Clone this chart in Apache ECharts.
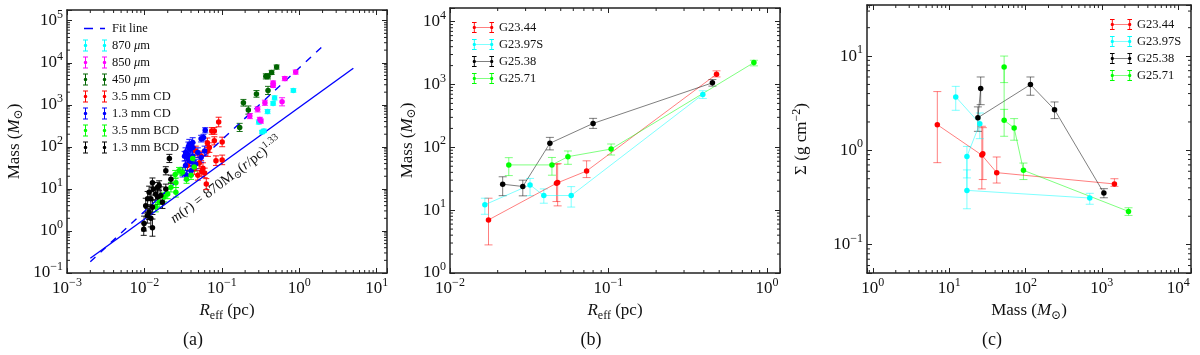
<!DOCTYPE html>
<html>
<head>
<meta charset="utf-8">
<script src="https://cdn.jsdelivr.net/npm/echarts@6/dist/echarts.min.js"></script>
<style>
html, body { margin: 0; padding: 0; background: #fff; }
#chart { width: 1200px; height: 355px; }
</style>
</head>
<body>
<div id="chart"></div>
<script>
// ---- panel (a): [Reff (pc), Mass (Msun), relative error]
const a870 = [[0.84, 2200, 0.1], [0.48, 1460, 0.12], [0.46, 1080, 0.1], [0.39, 690, 0.12], [0.30, 390, 0.12], [0.35, 240, 0.1], [0.33, 225, 0.1]]
const a850 = [[0.9, 6000, 0.12], [0.65, 4200, 0.12], [0.46, 3300, 0.12], [0.46, 2900, 0.12], [0.6, 1180, 0.25], [0.36, 1120, 0.15], [0.29, 780, 0.15], [0.23, 540, 0.15], [0.31, 450, 0.12], [0.32, 410, 0.12]]
const a450 = [[0.51, 7900, 0.12], [0.44, 5900, 0.12], [0.37, 4750, 0.15], [0.395, 4750, 0.15], [0.395, 2200, 0.25], [0.28, 1820, 0.2], [0.19, 1120, 0.2], [0.22, 750, 0.25], [0.17, 290, 0.25]]
const a35CD = [[0.091, 390, 0.3], [0.074, 239, 0.2], [0.080, 239, 0.2], [0.101, 131, 0.3], [0.080, 139, 0.25], [0.069, 96, 0.3], [0.101, 49, 0.3], [0.084, 47, 0.3], [0.066, 80, 0.35], [0.051, 41, 0.35], [0.057, 31, 0.35], [0.044, 30, 0.35], [0.049, 21, 0.3], [0.063, 13, 0.35], [0.054, 61, 0.3], [0.046, 80, 0.3], [0.065, 125, 0.3], [0.036, 36, 0.3], [0.055, 26, 0.3], [0.060, 24, 0.3]]
const a13CD = [[0.061, 248, 0.15], [0.054, 157, 0.2], [0.058, 166, 0.2], [0.042, 127, 0.3], [0.038, 116, 0.3], [0.039, 88, 0.3], [0.036, 67, 0.3], [0.042, 61, 0.3], [0.049, 73, 0.3], [0.060, 80, 0.3], [0.054, 56, 0.3], [0.046, 39, 0.3], [0.038, 47, 0.3], [0.034, 36, 0.3], [0.040, 27, 0.3], [0.035, 21, 0.3], [0.042, 96, 0.3], [0.034, 73, 0.3], [0.044, 36, 0.3], [0.031, 25, 0.3], [0.037, 100, 0.3], [0.036, 55, 0.3], [0.040, 45, 0.3], [0.033, 60, 0.3]]
const a35BCD = [[0.028, 27, 0.2], [0.031, 25, 0.2], [0.040, 21, 0.25], [0.044, 33, 0.25], [0.0255, 14, 0.3], [0.022, 11, 0.3], [0.020, 7.6, 0.3], [0.0155, 4.8, 0.3], [0.018, 6.4, 0.3], [0.014, 3.7, 0.3], [0.0255, 8.3, 0.3], [0.042, 53, 0.2], [0.025, 22, 0.25], [0.035, 17, 0.25]]
const a13BCD = [[0.021, 53, 0.25], [0.0189, 27, 0.25], [0.022, 17, 0.25], [0.0127, 14, 0.3], [0.0155, 12, 0.3], [0.0115, 8.3, 0.4], [0.0121, 5.8, 0.5], [0.0148, 6.4, 0.5], [0.0163, 7, 0.6], [0.0104, 4, 0.5], [0.0109, 2.3, 0.5], [0.0121, 2, 0.6], [0.0099, 1.5, 0.5], [0.0098, 1.1, 0.4], [0.0127, 1.2, 0.6], [0.0171, 4.8, 0.4], [0.0189, 10, 0.3], [0.013, 10, 0.4], [0.011, 5.8, 0.5], [0.0148, 11, 0.3], [0.0127, 3.7, 0.5], [0.014, 7.5, 0.4], [0.0115, 2.8, 0.5]]
// fit lines, end points
const fitDashed = [[0.002, 0.186], [1.95, 23600]]
const fitSolid = [[0.002, 0.224], [5, 7400]]

// ---- panels (b) and (c): per clump Reff, mass (+ error range), surface density (+ error range)
const clumps = ['G23.44', 'G23.97S', 'G25.38', 'G25.71']
const rG2344 = [0.0175, 0.0470, 0.0478, 0.0728, 0.481]
const mG2344 = [7.0, 26.8, 27.6, 42, 1460]
const mErrG2344 = [[2.8, 15.5], [13.7, 54], [11.7, 55], [33, 61], [1320, 1650]]
const sG2344 = [1.87, 0.89, 0.92, 0.58, 0.44]
const sErrG2344 = [[0.74, 4.2], [0.39, 1.80], [0.49, 1.74], [0.45, 0.85], [0.415, 0.5]]

const rG2397 = [0.0166, 0.032, 0.0391, 0.0582, 0.394]
const mG2397 = [12.2, 25.2, 17.1, 17.1, 694]
const mErrG2397 = [[8.6, 15.5], [17, 32], [12.9, 21.8], [11.2, 23.7], [600, 795]]
const sG2397 = [3.69, 1.92, 0.86, 0.376, 0.312]
const sErrG2397 = [[2.66, 4.77], [1.33, 2.49], [0.51, 1.10], [0.24, 0.62], [0.268, 0.35]]

const rG2538 = [0.0215, 0.0288, 0.0427, 0.080, 0.453]
const mG2538 = [25.9, 23.8, 116, 240, 1063]
const mErrG2538 = [[17, 34], [16.9, 30], [91, 144], [200, 289], [942, 1200]]
const sG2538 = [4.52, 2.22, 4.98, 2.7, 0.352]
const sErrG2538 = [[3.05, 6.0], [1.59, 2.89], [3.84, 6.0], [2.17, 3.26], [0.314, 0.392]]

const rG2571 = [0.0235, 0.044, 0.0555, 0.104, 0.828]
const mG2571 = [52.5, 52.5, 71, 94, 2234]
const mErrG2571 = [[35.5, 68.5], [36, 69], [53.7, 87.5], [75.5, 113], [1980, 2430]]
const sG2571 = [7.67, 2.08, 1.73, 0.614, 0.225]
const sErrG2571 = [[5.23, 10.0], [1.41, 2.72], [1.28, 2.17], [0.49, 0.733], [0.204, 0.246]]

const FONT = 'Liberation Serif, Times New Roman, DejaVu Serif, serif'
const ODOT = '\u2299'

const chart = echarts.init(document.getElementById('chart'))

// 10^n tick labels
const powLabel = v => {
  const l = Math.log10(v)
  const e = Math.round(l)
  if (Math.abs(l - e) > 1e-6) return ''
  return '{b|10}{s|' + (e < 0 ? '\u2212' + (-e) : e) + '}'
}
const labelRich = {
  b: { fontFamily: FONT, fontSize: 17, color: '#111' },
  s: { fontFamily: FONT, fontSize: 12, color: '#111', padding: [0, 0, 12, 0] }
}
const nameRich = {
  n: { fontFamily: FONT, fontSize: 17, color: '#111' },
  i: { fontFamily: FONT, fontSize: 17, fontStyle: 'italic', color: '#111' },
  sub: { fontFamily: FONT, fontSize: 12, color: '#111', padding: [9, 0, 0, 0] },
  sup: { fontFamily: FONT, fontSize: 12, color: '#111', padding: [0, 0, 10, 0] }
}

const frameLine = { show: true, lineStyle: { color: '#222', width: 1.5 } }

function mainX (grid, min, max, name) {
  return {
    type: 'log', gridIndex: grid, min, max, logBase: 10,
    axisLine: frameLine,
    axisTick: { inside: true, length: 5, lineStyle: { color: '#222' } },
    axisLabel: { formatter: powLabel, rich: labelRich, margin: 4 },
    splitLine: { show: false },
    name, nameLocation: 'middle', nameGap: 22, nameTextStyle: { rich: nameRich }
  }
}
function mainY (grid, min, max, name, gap) {
  return {
    type: 'log', gridIndex: grid, min, max, logBase: 10,
    axisLine: frameLine,
    axisTick: { inside: true, length: 5, lineStyle: { color: '#222' } },
    axisLabel: { formatter: powLabel, rich: labelRich, margin: 4 },
    splitLine: { show: false },
    name, nameLocation: 'middle', nameGap: gap, nameRotate: 90, nameTextStyle: { rich: nameRich }
  }
}
function mirror (ax, pos) {
  return Object.assign({}, ax, { position: pos, name: '', axisLabel: { show: false } })
}

// minor log ticks drawn along all four edges of a grid
function minorTicks (xi, yi, xr, yr) {
  return {
    type: 'custom', xAxisIndex: xi, yAxisIndex: yi, silent: true, clip: false, z: 5,
    data: [[xr[0], yr[0]]],
    renderItem: (params, api) => {
      const cs = params.coordSys
      const kids = []
      const st = { stroke: '#222', lineWidth: 1 }
      for (let d = Math.floor(Math.log10(xr[0])); d <= Math.ceil(Math.log10(xr[1])); d++) {
        for (let m = 2; m <= 9; m++) {
          const v = m * Math.pow(10, d)
          if (v <= xr[0] || v >= xr[1]) continue
          const px = api.coord([v, yr[0]])[0]
          kids.push({ type: 'line', shape: { x1: px, y1: cs.y + cs.height, x2: px, y2: cs.y + cs.height - 3 }, style: st })
          kids.push({ type: 'line', shape: { x1: px, y1: cs.y, x2: px, y2: cs.y + 3 }, style: st })
        }
      }
      for (let d = Math.floor(Math.log10(yr[0])); d <= Math.ceil(Math.log10(yr[1])); d++) {
        for (let m = 2; m <= 9; m++) {
          const v = m * Math.pow(10, d)
          if (v <= yr[0] || v >= yr[1]) continue
          const py = api.coord([xr[0], v])[1]
          kids.push({ type: 'line', shape: { x1: cs.x, y1: py, x2: cs.x + 3, y2: py }, style: st })
          kids.push({ type: 'line', shape: { x1: cs.x + cs.width, y1: py, x2: cs.x + cs.width - 3, y2: py }, style: st })
        }
      }
      return { type: 'group', children: kids }
    }
  }
}

// vertical error bars with caps, rows are [x, lo, hi]
function errBars (xi, yi, rows, color, cap, opacity) {
  return {
    type: 'custom', xAxisIndex: xi, yAxisIndex: yi, silent: true, z: 2,
    data: rows,
    encode: { x: 0, y: [1, 2] },
    renderItem: (params, api) => {
      const lo = api.coord([api.value(0), api.value(1)])
      const hi = api.coord([api.value(0), api.value(2)])
      const st = { stroke: color, lineWidth: 1, opacity }
      return {
        type: 'group',
        children: [
          { type: 'line', shape: { x1: lo[0], y1: lo[1], x2: hi[0], y2: hi[1] }, style: st },
          { type: 'line', shape: { x1: lo[0] - cap, y1: lo[1], x2: lo[0] + cap, y2: lo[1] }, style: st },
          { type: 'line', shape: { x1: hi[0] - cap, y1: hi[1], x2: hi[0] + cap, y2: hi[1] }, style: st }
        ]
      }
    }
  }
}

// legend icons: two error bars (a), two error bars joined by a line (b, c), dashed fit line
const iconErr = 'path://M0,0H5V1H3V11H5V12H0V11H2V1H0ZM19,0H24V1H22V11H24V12H19V11H21V1H19ZM4.3,6A1.8,1.8 0 1 1 0.7,6A1.8,1.8 0 1 1 4.3,6ZM23.3,6A1.8,1.8 0 1 1 19.7,6A1.8,1.8 0 1 1 23.3,6Z'
const iconLineErr = iconErr + 'M2.5,5.6H21.5V6.4H2.5Z'
const iconDash = 'path://M0,0H0.01V0.01H0ZM23.99,11.99H24V12H23.99ZM1,5.3H10V6.7H1ZM17,5.3H22V6.7H17Z'

// ---------------- panel (a) series
const panelA = [
  ['870 \u03bcm', a870, '#00ffff'],
  ['850 \u03bcm', a850, '#ff00ff'],
  ['450 \u03bcm', a450, '#006400'],
  ['3.5 mm CD', a35CD, '#ff0000'],
  ['1.3 mm CD', a13CD, '#0000ff'],
  ['3.5 mm BCD', a35BCD, '#00ff00'],
  ['1.3 mm BCD', a13BCD, '#000000']
]
const series = []
series.push(minorTicks(0, 0, [1e-3, 13.6], [0.1, 1.8e5]))
series.push({
  type: 'line', name: 'Fit line', xAxisIndex: 0, yAxisIndex: 0, data: fitDashed,
  symbol: 'none', lineStyle: { color: '#0000ff', width: 1.4, type: [7, 7] }, itemStyle: { color: '#0000ff' }, z: 3
})
series.push({
  type: 'line', xAxisIndex: 0, yAxisIndex: 0, data: fitSolid,
  symbol: 'none', lineStyle: { color: '#0000ff', width: 1.4 }, z: 3
})
panelA.forEach(([name, rows, color]) => {
  series.push(errBars(0, 0, rows.map(p => [p[0], p[1] / (1 + p[2]), p[1] * (1 + p[2])]), color, 3, 0.9))
  series.push({
    type: 'scatter', name, xAxisIndex: 0, yAxisIndex: 0, data: rows.map(p => [p[0], p[1]]),
    symbolSize: 5.5, itemStyle: { color, opacity: 1 }, z: 4
  })
})

// ---------------- panels (b) and (c)
const bc = [
  [rG2344, mG2344, mErrG2344, sG2344, sErrG2344, '#ff0000', 'rgba(255,0,0,0.5)'],
  [rG2397, mG2397, mErrG2397, sG2397, sErrG2397, '#00ffff', 'rgba(0,255,255,0.5)'],
  [rG2538, mG2538, mErrG2538, sG2538, sErrG2538, '#000000', 'rgba(0,0,0,0.5)'],
  [rG2571, mG2571, mErrG2571, sG2571, sErrG2571, '#00ff00', 'rgba(0,255,0,0.5)']
]
series.push(minorTicks(2, 2, [0.01, 1.21], [1, 1.65e4]))
series.push(minorTicks(4, 4, [0.84, 1.47e4], [0.05, 34.8]))
bc.forEach(([r, m, mErr, s, sErr, color, pale], k) => {
  series.push(errBars(2, 2, r.map((x, i) => [x, mErr[i][0], mErr[i][1]]), pale, 4, 1))
  series.push({
    type: 'line', name: clumps[k], xAxisIndex: 2, yAxisIndex: 2, data: r.map((x, i) => [x, m[i]]),
    symbol: 'circle', symbolSize: 5.5, showSymbol: true, itemStyle: { color }, lineStyle: { color: pale, width: 1 }, z: 4
  })
  series.push(errBars(4, 4, m.map((x, i) => [x, sErr[i][0], sErr[i][1]]), pale, 4, 1))
  series.push({
    type: 'line', name: clumps[k], xAxisIndex: 4, yAxisIndex: 4, data: m.map((x, i) => [x, s[i]]),
    symbol: 'circle', symbolSize: 5.5, showSymbol: true, itemStyle: { color }, lineStyle: { color: pale, width: 1 }, z: 4
  })
})

const legendText = {
  fontFamily: FONT, fontSize: 12.5, color: '#111',
  rich: { n: { fontFamily: FONT, fontSize: 12.5, color: '#111' }, i: { fontFamily: FONT, fontSize: 12.5, fontStyle: 'italic', color: '#111' } }
}

const axA = { x: mainX(0, 1e-3, 13.6, '{i|R}{sub|eff}{n| (pc)}'), y: mainY(0, 0.1, 1.8e5, '{n|Mass (}{i|M}{sub|' + ODOT + '}{n|)}', 42) }
const axB = { x: mainX(1, 0.01, 1.21, '{i|R}{sub|eff}{n| (pc)}'), y: mainY(1, 1, 1.65e4, '{n|Mass (}{i|M}{sub|' + ODOT + '}{n|)}', 32) }
const axC = { x: mainX(2, 0.84, 1.47e4, '{n|Mass (}{i|M}{sub|' + ODOT + '}{n|)}'), y: mainY(2, 0.05, 34.8, '{n|\u03a3 (g cm}{sup|\u22122}{n|)}', 54) }

const option = {
  animation: false,
  backgroundColor: '#fff',
  textStyle: { fontFamily: FONT },
  grid: [
    { left: 67, top: 10, width: 320, height: 263 },
    { left: 450, top: 8, width: 330, height: 265 },
    { left: 867, top: 5, width: 324, height: 268 }
  ],
  // order: a-bottom, a-top, b-bottom, b-top, c-bottom, c-top
  xAxis: [axA.x, mirror(axA.x, 'top'), axB.x, mirror(axB.x, 'top'), axC.x, mirror(axC.x, 'top')],
  yAxis: [axA.y, mirror(axA.y, 'right'), axB.y, mirror(axB.y, 'right'), axC.y, mirror(axC.y, 'right')],
  legend: [
    {
      orient: 'vertical', left: 78, top: 17, itemWidth: 24, itemHeight: 12, itemGap: 4,
      textStyle: legendText,
      formatter: n => n.replace('\u03bcm', '{i|\u03bc}{n|m}'),
      data: [{ name: 'Fit line', icon: iconDash }].concat(panelA.map(p => ({ name: p[0], icon: iconErr })))
    },
    {
      orient: 'vertical', left: 467, top: 16, itemWidth: 22, itemHeight: 12, itemGap: 4,
      textStyle: legendText,
      data: clumps.map(name => ({ name, icon: iconLineErr }))
    },
    {
      orient: 'vertical', left: 1105, top: 13, itemWidth: 22, itemHeight: 12, itemGap: 4,
      textStyle: legendText,
      data: clumps.map(name => ({ name, icon: iconLineErr }))
    }
  ],
  graphic: [
    {
      type: 'text', x: 226, y: 180, rotation: 37 * Math.PI / 180,
      style: {
        text: '{i|m}{n|(}{i|r}{n|) = 870M}{sub|' + ODOT + '}{n|(}{i|r}{n|/pc)}{sup|1.33}',
        align: 'center', verticalAlign: 'middle',
        rich: {
          n: { fontFamily: FONT, fontSize: 14.5, fill: '#111' },
          i: { fontFamily: FONT, fontSize: 14.5, fontStyle: 'italic', fill: '#111' },
          sub: { fontFamily: FONT, fontSize: 10, fill: '#111', padding: [7, 0, 0, 0] },
          sup: { fontFamily: FONT, fontSize: 10, fill: '#111', padding: [0, 0, 9, 0] }
        }
      }
    },
    { type: 'text', x: 193, y: 340, style: { text: '(a)', font: '18px ' + FONT, fill: '#111', align: 'center', verticalAlign: 'middle' } },
    { type: 'text', x: 591, y: 340, style: { text: '(b)', font: '18px ' + FONT, fill: '#111', align: 'center', verticalAlign: 'middle' } },
    { type: 'text', x: 992, y: 340, style: { text: '(c)', font: '18px ' + FONT, fill: '#111', align: 'center', verticalAlign: 'middle' } }
  ],
  series
}
chart.setOption(option)
</script>
</body>
</html>
